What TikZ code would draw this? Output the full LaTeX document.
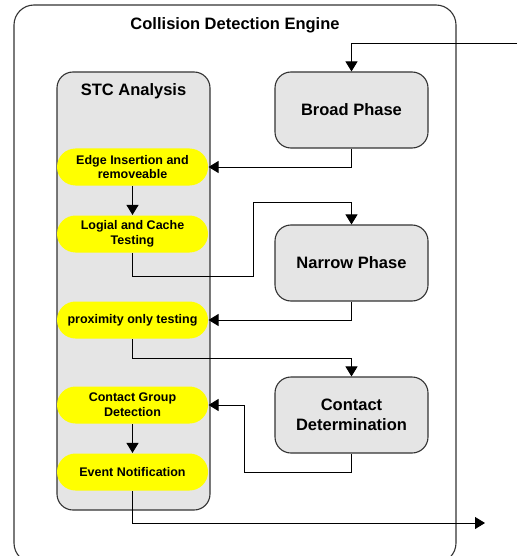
\documentclass[tikz,border=0pt]{standalone}
\usepackage{xcolor}
\definecolor{palpanelgray}{HTML}{E5E5E5}
\definecolor{palnoteyellow}{HTML}{FFFF00}
\definecolor{pallinedark}{HTML}{333333}
\usepackage{fontspec}
\setmainfont{Liberation Sans}
\usepackage{tikz}
\usetikzlibrary{positioning, arrows.meta}

\begin{document}
\begin{tikzpicture}[
  x=1pt, y=-1pt,
  font=\bfseries,
  box/.style={line width=1.1pt, draw=pallinedark, align=center, text=black, inner sep=2pt},
  enginebox/.style={box, rounded corners=20pt, minimum width=442pt, minimum height=558pt},
  graybox/.style={box, fill=palpanelgray, rounded corners=16pt, minimum width=153pt,
                  minimum height=76pt, font=\bfseries\fontsize{16.5}{20}\selectfont},
  stcbox/.style={graybox, minimum height=438pt},
  yellowbox/.style={box, draw=none, fill=palnoteyellow, rounded corners=18.5pt,
                    minimum width=151pt, minimum height=37pt,
                    font=\bfseries\fontsize{12.5}{14.7}\selectfont},
  arr/.style={-{Triangle[length=10pt, width=12pt]}, line width=0.9pt, draw=black},
  heading/.style={font=\bfseries\fontsize{16.5}{20}\selectfont, text=black}
]
\useasboundingbox (0,0) rectangle (517,556);

% frame and panels
\node[enginebox] (engine) at (235,284) {};
\node[heading] (enginetitle) at (235,25) {Collision Detection Engine};
\node[stcbox] (stc) at (133.5,291) {};
\node[heading] (stctitle) at (133.5,91) {STC Analysis};

% phases
\node[graybox] (broad) at (351.5,110) {Broad Phase};
\node[graybox] (narrow) at (351.5,263) {Narrow Phase};
\node[graybox] (contact) at (351.5,415) {Contact\\Determination};

% STC steps
\node[yellowbox] (edge) at (132.5,167) {Edge Insertion and\\removeable};
\node[yellowbox] (logial) at (132.5,234) {Logial and Cache\\Testing};
\node[yellowbox] (prox) at (132.5,320) {proximity only testing};
\node[yellowbox] (group) at (132.5,405) {Contact Group\\Detection};
\node[yellowbox] (event) at (132.5,472) {Event Notification};

\coordinate (in) at (517,43);
\coordinate (out) at (485,523);

\draw[arr] (in) -| (broad.north);
\draw[arr] (broad.south) |- (edge.east);
\draw[arr] (edge) -- (logial);
\draw[arr] (logial.south) |- (253,276) |- (351.5,202) -- (narrow.north);
\draw[arr] (narrow.south) |- (prox.east);
\draw[arr] (prox.south) |- (351.5,358) -- (contact.north);
\draw[arr] (contact.south) |- (244,472) |- (group.east);
\draw[arr] (group) -- (event);
\draw[arr] (event.south) |- (out);
\end{tikzpicture}
\end{document}
